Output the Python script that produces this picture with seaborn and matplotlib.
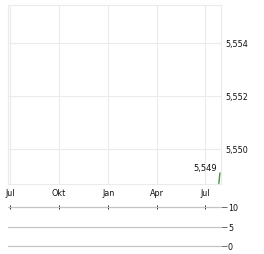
import matplotlib
matplotlib.use("Agg")
import matplotlib.pyplot as plt
import matplotlib.dates as mdates
import seaborn as sns
import pandas as pd
import numpy as np

# Data
price_dates = ["2024-07-27", "2024-07-28", "2024-07-29"]
price_values = [5.5487, 5.5489, 5.5491]
last_label = "5,549"
y_ticks = [5.550, 5.552, 5.554]
y_ticklabels = ["5,550", "5,552", "5,554"]
month_ticks = ["2023-07-01", "2023-10-01", "2024-01-01", "2024-04-01", "2024-07-01"]
month_labels = ["Jul", "Okt", "Jan", "Apr", "Jul"]
vol_ticks = [0, 5, 10]
vol_ticklabels = ["0", "5", "10"]

sns.set_theme(style="white")
plt.rcParams['font.family'] = ['DejaVu Sans']

fig = plt.figure(figsize=(2.64, 2.55), dpi=100)
ax = fig.add_axes([8/264, 1-185/255, (221-8)/264, (185-6)/255])
axv = fig.add_axes([8/264, 1-247/255, (221-8)/264, (247-208)/255])

df = pd.DataFrame({"date": pd.to_datetime(price_dates), "value": price_values})
sns.lineplot(data=df, x="date", y="value", ax=ax, color="#3a9a3a", linewidth=1.0)

xmin = pd.Timestamp("2023-06-27")
xmax = pd.Timestamp("2024-07-31")
ax.set_xlim(xmin, xmax)
ax.set_ylim(5.54868, 5.55543)
ax.set_xlabel("")
ax.set_ylabel("")

mt = pd.to_datetime(month_ticks)
ax.set_xticks(mt)
ax.set_xticklabels(month_labels)
ax.set_yticks(y_ticks)
ax.set_yticklabels(y_ticklabels)
ax.yaxis.tick_right()
ax.tick_params(axis="y", length=0, pad=3, labelsize=5.8, colors="#111111")
ax.tick_params(axis="x", length=0, pad=3, labelsize=5.8, colors="#111111")
ax.grid(True, color="#ebebeb", linewidth=0.8)
for s in ax.spines.values():
    s.set_color("#ebebeb")
    s.set_linewidth(0.8)

ax.text(pd.Timestamp("2024-07-24"), 5.5493, last_label, ha="right", va="center",
        fontsize=6, color="#111111")

# Volume panel
axv.set_xlim(xmin, xmax)
axv.set_ylim(0, 10)
for v in vol_ticks:
    axv.axhline(v, color="#c4c4c4", linewidth=0.9, clip_on=False)
axv.set_yticks(vol_ticks)
axv.set_yticklabels(vol_ticklabels)
axv.yaxis.tick_right()
axv.tick_params(axis="y", length=4, width=0.6, color="#555555", pad=1, labelsize=5.8, labelcolor="#111111")
axv.set_xticks(mt)
axv.xaxis.tick_top()
axv.tick_params(axis="x", direction="inout", length=3, width=0.7, color="#222222", labeltop=False, labelbottom=False)
for s in axv.spines.values():
    s.set_visible(False)
axv.set_facecolor("none")
axv.grid(False)

fig.savefig("out.png", dpi=100)
